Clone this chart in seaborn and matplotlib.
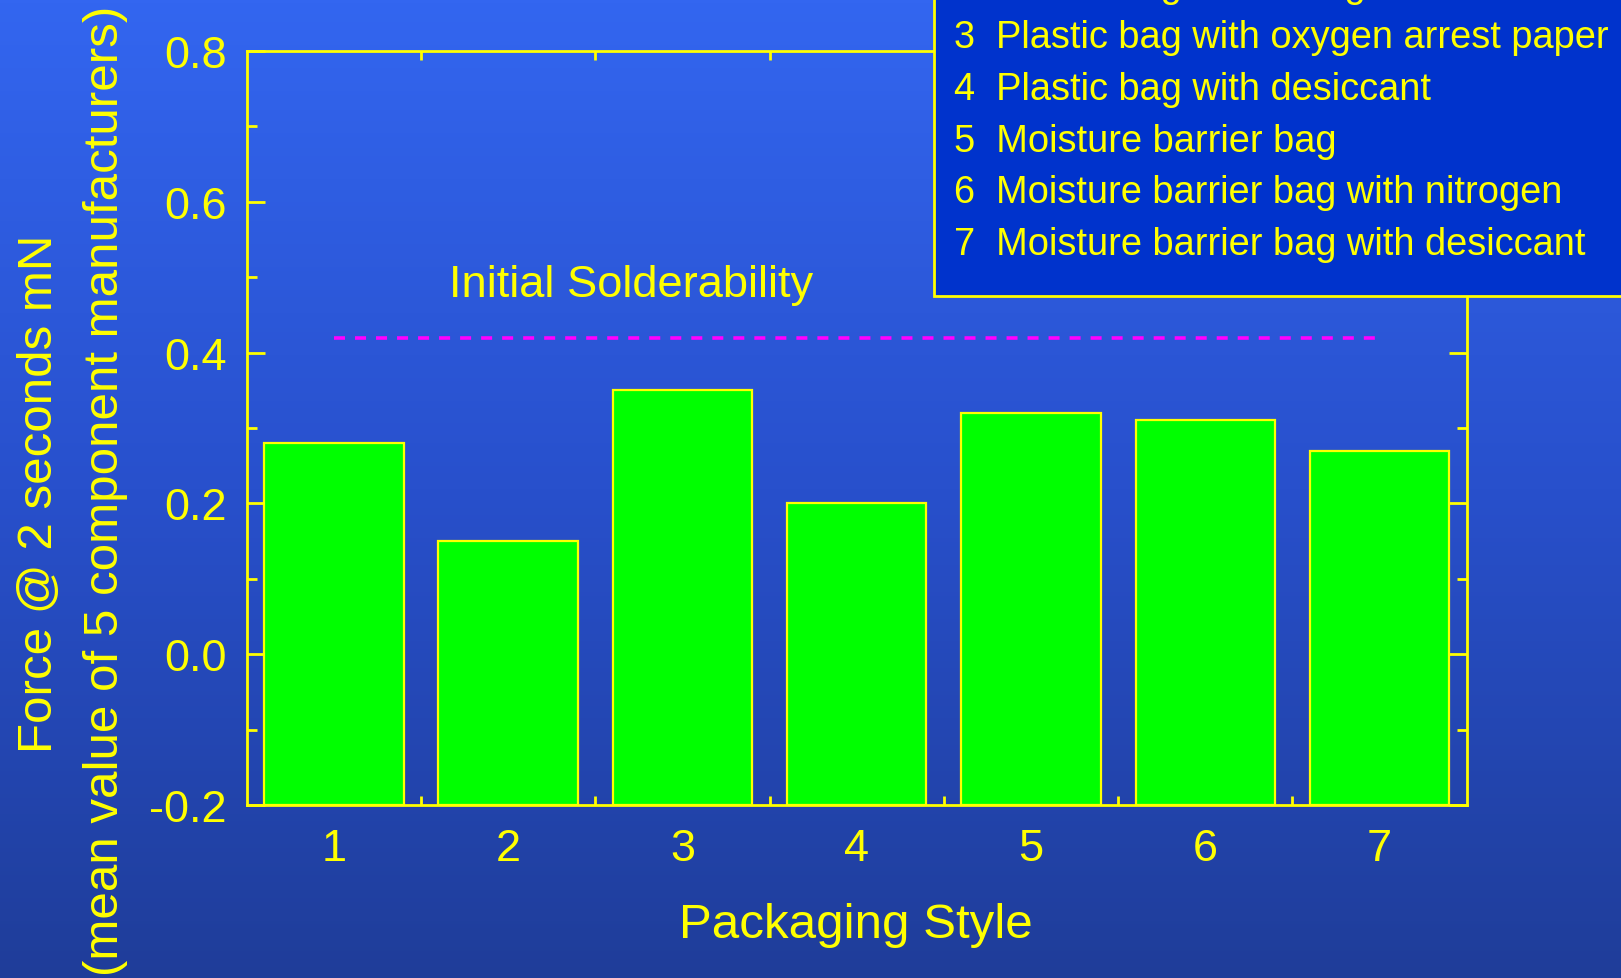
import numpy as np
import pandas as pd
import matplotlib
matplotlib.use("Agg")
import matplotlib.pyplot as plt
from matplotlib.colors import LinearSegmentedColormap
from matplotlib.patches import Rectangle
from matplotlib.ticker import FixedLocator, MultipleLocator
import seaborn as sns

# ---- data -------------------------------------------------------------
styles = ["1", "2", "3", "4", "5", "6", "7"]
force_mn = [0.28, 0.15, 0.35, 0.20, 0.32, 0.31, 0.27]
initial_solderability = 0.42
style_names = [
    "1  Plastic bag",
    "2  Plastic bag with nitrogen",
    "3  Plastic bag with oxygen arrest paper",
    "4  Plastic bag with desiccant",
    "5  Moisture barrier bag",
    "6  Moisture barrier bag with nitrogen",
    "7  Moisture barrier bag with desiccant",
]
y_ticks = [-0.2, 0.0, 0.2, 0.4, 0.6, 0.8]

# ---- styling ----------------------------------------------------------
YELLOW = "#FFFF00"
GREEN = "#00FF00"
MAGENTA = "#FF00FF"
BOX_BLUE = "#0033CC"

sns.set_style("white")
plt.rcParams["font.family"] = ["Liberation Sans", "DejaVu Sans"]

W, H, DPI = 1621, 979, 100
fig = plt.figure(figsize=(W / DPI, H / DPI), dpi=DPI)

# vertical blue gradient background
bg = fig.add_axes([0, 0, 1, 1], zorder=-10)
grad_cmap = LinearSegmentedColormap.from_list(
    "slide", ["#1F3D99", "#2850CC", "#3366F0"])
bg.imshow(np.linspace(0, 1, 256).reshape(-1, 1), aspect="auto",
          cmap=grad_cmap, origin="lower", extent=[0, 1, 0, 1])
bg.set_axis_off()

# main plotting area (pixel placement)
ax_l, ax_r, ax_t, ax_b = 246.7, 1466.7, 52.0, 806.0
ax = fig.add_axes([ax_l / W, 1 - ax_b / H, (ax_r - ax_l) / W, (ax_b - ax_t) / H])
ax.set_facecolor("none")

df = pd.DataFrame({"style": styles, "force": force_mn})
sns.barplot(data=df, x="style", y="force", ax=ax, color=GREEN,
            saturation=1, width=0.8, edgecolor=YELLOW, linewidth=1.6,
            errorbar=None, zorder=2)

ymin, ymax = -0.2, 0.8
ax.set_ylim(ymin, ymax)
ax.set_xlim(-0.5, len(styles) - 0.5)

# bars rise from the bottom of the frame
for p in ax.patches:
    top = p.get_y() + p.get_height()
    p.set_y(ymin)
    p.set_height(top - ymin)

# initial solderability reference line
ax.hlines(initial_solderability, 0, len(styles) - 1, colors=MAGENTA,
          linewidth=2.6, linestyles=(0, (3.05, 2.77)), zorder=3)
ax.text(0.3148, 0.6747, "Initial Solderability", transform=ax.transAxes,
        ha="center", va="baseline", fontsize=32.6, color=YELLOW)

# frame and ticks
for side in ["left", "right", "top", "bottom"]:
    ax.spines[side].set_visible(True)
    ax.spines[side].set_color(YELLOW)
    ax.spines[side].set_linewidth(2.0)
    ax.spines[side].set_zorder(4)

ax.yaxis.set_major_locator(FixedLocator(y_ticks))
ax.yaxis.set_minor_locator(MultipleLocator(0.1))
ax.set_yticklabels([f"{v:.1f}" for v in y_ticks])
ax.xaxis.set_minor_locator(FixedLocator(np.arange(len(styles) - 1) + 0.5))

ax.tick_params(axis="y", which="major", direction="in", left=True, right=True,
               length=13, width=2.0, color=YELLOW, labelcolor=YELLOW,
               labelsize=32.5, pad=14.4)
ax.tick_params(axis="y", which="minor", direction="in", left=True, right=True,
               length=7.2, width=2.0, color=YELLOW)
ax.tick_params(axis="x", which="major", direction="in", bottom=True, top=False,
               length=0, labelcolor=YELLOW, labelsize=32.5, pad=16.5)
ax.tick_params(axis="x", which="minor", direction="in", bottom=True, top=True,
               length=6.2, width=2.0, color=YELLOW)

ax.set_xlabel("Packaging Style", fontsize=35.5, color=YELLOW, va="baseline")
ax.xaxis.set_label_coords(0.4994, -(938 - ax_b) / (ax_b - ax_t))
ax.set_ylabel("")

# two-line y-axis title
fig.text(51.7 / W, 1 - 494 / H, "Force @ 2 seconds mN", rotation=90,
         rotation_mode="anchor", ha="center", va="baseline",
         fontsize=35.5, color=YELLOW)
fig.text(118.3 / W, 1 - 491 / H, "(mean value of 5 component manufacturers)",
         rotation=90, rotation_mode="anchor", ha="center", va="baseline",
         fontsize=35.5, color=YELLOW)

# key to the packaging styles
box_l, box_b = 933.6, 296.7
fig.patches.append(Rectangle((box_l / W, 1 - box_b / H), 0.6, 0.6,
                             transform=fig.transFigure, facecolor=BOX_BLUE,
                             edgecolor=YELLOW, linewidth=2.0, zorder=5))
for i, name in enumerate(style_names):
    baseline = 48.3 + (i - 2) * 51.6
    fig.text(953.5 / W, 1 - baseline / H, name, ha="left", va="baseline",
             fontsize=27.4, color=YELLOW, zorder=6)

fig.savefig("out.png", dpi=DPI)
